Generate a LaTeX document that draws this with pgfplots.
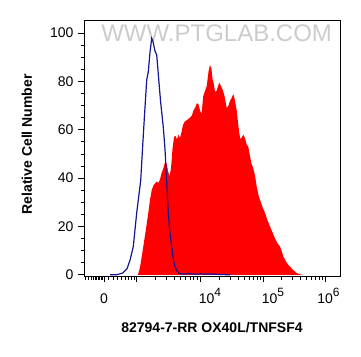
\documentclass[border=0pt]{standalone}
\usepackage{pgfplots}
\pgfplotsset{compat=1.18}
\usepackage{fontspec}
\setmainfont{Liberation Sans}
\definecolor{isoblue}{RGB}{20,20,150}
\begin{document}
\begin{tikzpicture}
\useasboundingbox (-84pt,-80pt) rectangle (277pt,276pt);
\begin{axis}[
  scale only axis,
  width=256pt, height=256pt,
  xmin=84, xmax=340, ymin=-0.5, ymax=105.4,
  axis line style={line width=0.8pt},
  tick pos=left, tick align=outside,
  major tick length=6pt, minor tick length=3.5pt,
  every tick/.style={black, line width=0.8pt},
  xtick={104,136,200,263,325},
  xticklabels={0,,\hspace*{20pt}10\raisebox{0.9ex}{\fontsize{12}{12}\selectfont 4},\hspace*{20pt}10\raisebox{0.9ex}{\fontsize{12}{12}\selectfont 5},\hspace*{7pt}10\raisebox{0.9ex}{\fontsize{12}{12}\selectfont 6}},
  minor xtick={85,88,91,93,95,96.5,98,99.5,101,102.5,108.5,113,117,121,125,128.5,131.5,134,
    155.3,166.5,174.5,180.7,185.8,190.1,193.8,197.1,
    219.0,230.0,237.9,244.0,249.0,253.2,256.9,260.1,
    281.7,292.6,300.3,306.3,311.2,315.4,319.0,322.1},
  ytick={0,20,40,60,80,100},
  minor y tick num=3,
  /pgf/number format/assume math mode=true,
  tick label style={font=\fontsize{14}{16}\selectfont},
  xticklabel style={anchor=base, yshift=-21pt},
  yticklabel style={xshift=-1pt},
  xlabel={\bfseries 82794-7-RR OX40L/TNFSF4},
  ylabel={\bfseries Relative Cell Number},
  label style={font=\fontsize{14}{16}\selectfont},
  xlabel style={at={(axis description cs:0.5,0)}, anchor=center, yshift=-52pt},
  ylabel style={at={(axis description cs:-0.2227,0.514)}, anchor=center},
  clip=true,
]
\node[text=black!20, font=\fontsize{24}{26}\selectfont] at (axis description cs:0.518,0.947) {WWW.PTGLAB.COM};
\addplot[fill=red, draw=none] coordinates {
(138,0) (140,3) (143.3,11.7) (146,19) (148.3,25.6) (150,31) (151.7,35) (153.5,37)
(156.7,38.6) (158.5,38) (160,39.5) (161.5,42) (163.3,44) (165,46.5) (166.7,46)
(168,43) (169.5,40.6) (171,44) (172.5,52) (174,57) (175.5,57.5) (177,56) (178.5,58)
(180,56.5) (181.5,59) (183,62) (185,63.5) (187,64) (188.5,64.5) (190,65) (192,66)
(193.5,68) (195,69) (197,71) (198.5,70.5) (200,68) (201.5,66.5) (203.3,74) (205,76)
(206.7,78) (208.5,84) (210,86.8) (211.5,85) (212.5,81) (213.8,79) (215,75.7)
(216.5,76) (218,78) (219.3,79.5) (220.5,78.5) (222.7,76.5) (224.5,74) (226.7,69)
(228.5,70) (230,72) (231.5,73) (233.3,74.7) (234.5,73) (236.7,68) (238,63)
(239.3,58.5) (240.5,56) (242,57) (243.3,58) (245,56.5) (246.5,54) (248.3,53)
(250,49) (251.5,46) (253.3,44) (255,41) (256.7,36.5) (258.5,33) (260,31)
(262.5,28) (265,25.6) (267.5,22.5) (270,20) (272.5,17.5) (275,15) (277.5,13)
(280,11.7) (281.5,10) (283.3,7.6) (286,5.5) (288,4.2) (290,3.4) (293,2)
(296.7,0.7) (300,0.2) (303,0)
} \closedcycle;
\addplot[isoblue, line width=1.2pt] coordinates {
(110,0) (116,0) (120,0.4) (123,0.8) (127,2.5) (130,6) (133.3,11.7) (136.7,25.6)
(140.7,39) (142.5,52) (144.5,66) (146.7,80.6) (148.3,84) (150,92) (151.7,97.8)
(153,96.5) (155,92.5) (156.7,91) (158.5,82) (160.5,72) (163.3,61) (165,52)
(166.5,40) (168.3,25.5) (170,17) (171.7,11.7) (173.5,6) (175,3.4) (177,1.5)
(180,0.4) (185,0.3) (190,0.5) (195,0.2) (200,0.4) (210,0.3) (222,0.1) (230,0)
};
\end{axis}
\end{tikzpicture}
\end{document}
